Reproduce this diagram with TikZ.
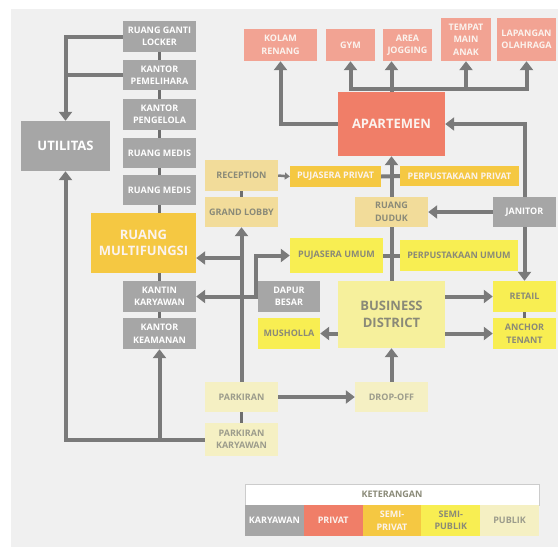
\documentclass[tikz,border=0pt]{standalone}
\usepackage{fontspec}
\setmainfont{Open Sans}
\usetikzlibrary{arrows.meta}
\pgfdeclarelayer{back}
\pgfdeclarelayer{lines}
\pgfsetlayers{back,lines,main}
\definecolor{panel}{HTML}{F0F0F0}
\definecolor{kary}{HTML}{A6A6A6}
\definecolor{salm}{HTML}{F2A393}
\definecolor{priv}{HTML}{F07E68}
\definecolor{gold}{HTML}{F5C842}
\definecolor{tan}{HTML}{F2DC9A}
\definecolor{yel}{HTML}{F8EE52}
\definecolor{bdy}{HTML}{F6F09C}
\definecolor{pale}{HTML}{F5F0C3}
\definecolor{linec}{HTML}{7A7A7A}
\definecolor{stubc}{HTML}{6E6E6E}
\definecolor{txtg}{HTML}{8A8A78}
\definecolor{txtw}{HTML}{FBF3EE}
\newcommand\bx[7]{%
  \pgfmathsetmacro\myBW{#4-#2}\pgfmathsetmacro\myBH{#5-#3}%
  \pgfmathsetmacro\myCX{(#2+#4)/2}\pgfmathsetmacro\myCY{(#3+#5)/2}%
  \node[#6, minimum width=\myBW pt, minimum height=\myBH pt] (#1) at (\myCX,\myCY) {#7};}
\tikzset{
  base/.style={inner sep=0pt, align=center, font=\fontsize{9}{12.5}\selectfont\bfseries},
  big/.style={base, font=\fontsize{13}{16.5}\selectfont\bfseries},
  kbox/.style={base, fill=kary, text=white},
  sbox/.style={base, fill=salm, text=txtw},
  pbox/.style={big, fill=priv, text=txtw},
  gbox/.style={base, fill=gold, text=txtw},
  tbox/.style={base, fill=tan, text=txtg},
  ybox/.style={base, fill=yel, text=txtg},
  bdbox/.style={big, fill=bdy, text=txtg},
  wbox/.style={base, fill=pale, text=txtg!85},
  conn/.style={draw=linec, line width=4pt},
  arr/.style={conn, -{Triangle[length=9pt,width=13pt]}},
  sarr/.style={draw=linec, line width=2.5pt, -{Triangle[length=5pt,width=7pt]}},
  stub/.style={draw=stubc, line width=3.5pt},
}
\begin{document}
\begin{tikzpicture}[x=1pt,y=-1pt]
\useasboundingbox (0,0) rectangle (558,547);
\begin{pgfonlayer}{back}
\fill[panel] (11,9) rectangle (558,547);
\end{pgfonlayer}
% grey column
\bx{locker}{123}{21}{196}{52}{kbox}{RUANG GANTI\\LOCKER}
\bx{pem}{123}{60}{196}{90}{kbox}{KANTOR\\PEMELIHARA}
\bx{peng}{123}{99}{196}{130}{kbox}{KANTOR\\PENGELOLA}
\bx{medis}{123}{138}{196}{168}{kbox}{RUANG MEDIS}
\bx{medisb}{123}{175}{196}{205}{kbox}{RUANG MEDIS}
\bx{multi}{91}{213}{196}{273}{big, fill=gold, text=txtw}{RUANG\\MULTIFUNGSI}
\bx{kantin}{123}{281}{196}{312}{kbox}{KANTIN\\KARYAWAN}
\bx{keam}{123}{318}{196}{349}{kbox}{KANTOR\\KEAMANAN}
\bx{util}{21}{121}{110}{171}{big, fill=kary, text=white}{UTILITAS}
% top row
\bx{kolam}{244}{29}{317}{61}{sbox}{KOLAM\\RENANG}
\bx{gym}{326}{29}{375}{61}{sbox}{GYM}
\bx{area}{383}{29}{432}{61}{sbox}{AREA\\JOGGING}
\bx{tempat}{441}{18}{491}{61}{sbox}{TEMPAT\\MAIN\\ANAK}
\bx{lap}{497}{18}{556}{61}{sbox}{LAPANGAN\\OLAHRAGA}
\bx{apart}{338}{92}{445}{156}{pbox}{APARTEMEN}
% middle
\bx{rec}{205}{160}{278}{191}{tbox}{RECEPTION}
\bx{lobby}{205}{197}{278}{227}{tbox}{GRAND LOBBY}
\bx{pp}{290}{166}{381}{187}{gbox}{PUJASERA PRIVAT}
\bx{perpp}{400}{166}{519}{186}{gbox}{PERPUSTAKAAN PRIVAT}
\bx{duduk}{355}{197}{428}{227}{tbox}{RUANG\\DUDUK}
\bx{jan}{493}{197}{556}{227}{kbox}{JANITOR}
\bx{pumum}{290}{238}{383}{273}{ybox}{PUJASERA UMUM}
\bx{perpu}{400}{240}{518}{271}{ybox}{PERPUSTAKAAN UMUM}
\bx{dapur}{258}{281}{320}{312}{kbox}{DAPUR\\BESAR}
\bx{mus}{258}{318}{320}{349}{ybox}{MUSHOLLA}
\bx{bd}{338}{281}{445}{348}{bdbox}{BUSINESS\\DISTRICT}
\bx{retail}{493}{281}{556}{312}{ybox}{RETAIL}
\bx{anchor}{493}{318}{556}{349}{ybox}{ANCHOR\\TENANT}
% bottom
\bx{park}{205}{382}{278}{412}{wbox}{PARKIRAN}
\bx{pk}{205}{423}{278}{456}{wbox}{PARKIRAN\\KARYAWAN}
\bx{drop}{355}{382}{428}{412}{wbox}{DROP-OFF}
% legend
\bx{leg}{245}{484}{539}{505}{base, fill=white, draw=black!20, line width=0.6pt, text=txtg}{KETERANGAN}
\bx{lk}{245}{505}{303.8}{536}{kbox}{KARYAWAN}
\bx{lp}{303.8}{505}{362.6}{536}{base, fill=priv, text=txtw}{PRIVAT}
\bx{lsp}{362.6}{505}{421.4}{536}{gbox}{SEMI-\\PRIVAT}
\bx{lsu}{421.4}{505}{480.2}{536}{ybox}{SEMI-\\PUBLIK}
\bx{lpu}{480.2}{505}{539}{536}{wbox}{PUBLIK}
\begin{pgfonlayer}{lines}
% stubs
\draw[stub] (locker.south) -- (pem.north);
\draw[stub] (pem.south) -- (peng.north);
\draw[stub] (peng.south) -- (medis.north);
\draw[stub] (medis.south) -- (medisb.north);
\draw[stub] (medisb.south) -- (medisb.south |- multi.north);
\draw[stub] (kantin.north |- multi.south) -- (kantin.north);
\draw[stub] (kantin.south) -- (keam.north);
\draw[stub] (rec.south) -- (lobby.north);
\draw[stub] (retail.south) -- (anchor.north);
\draw[stub] (park.south) -- (pk.north);
% connectors
\draw[arr] (locker.west) -| (util.north);
\draw[conn] (pem.west) -- (util.north |- pem.west);
\draw[arr] (pk.west) -| (util.south);
\draw[arr] (keam.south |- pk.west) -- (keam.south);
\draw[arr] (park.north) -- (lobby.south);
\coordinate (jm) at (241.5,258);
\draw[arr] (jm) -- (multi.east |- jm);
\draw[arr] (dapur.west) -- (kantin.east);
\coordinate (jd) at (256,296.5);
\draw[arr] (jd) |- (pumum.west);
\draw[sarr] (rec.east) -- (pp.west);
\draw[conn] (pp.east) -- (perpp.west);
\draw[conn] (pumum.east) -- (perpu.west);
\draw[arr] (bd.north) -- (apart.south);
\draw[arr] (jan.west) -- (duduk.east);
\draw[arr] (jan.north) |- (apart.east);
\draw[arr] (jan.south) -- (retail.north);
\draw[arr] (bd.east |- retail.west) -- (retail.west);
\draw[arr] (bd.east |- anchor.west) -- (anchor.west);
\draw[arr] (bd.west |- mus.east) -- (mus.east);
\draw[arr] (drop.north) -- (bd.south);
\draw[arr] (park.east) -- (drop.west);
\draw[arr] (apart.west) -| (kolam.south);
\coordinate (bus) at (0,89);
\draw[conn, line cap=rect] (gym.south |- bus) -- (lap.south |- bus);
\draw[arr] (gym.south |- bus) -- (gym.south);
\draw[arr] (apart.north) -- (apart.north |- area.south);
\draw[arr] (tempat.south |- bus) -- (tempat.south);
\draw[arr] (lap.south |- bus) -- (lap.south);
\end{pgfonlayer}
\end{tikzpicture}
\end{document}
